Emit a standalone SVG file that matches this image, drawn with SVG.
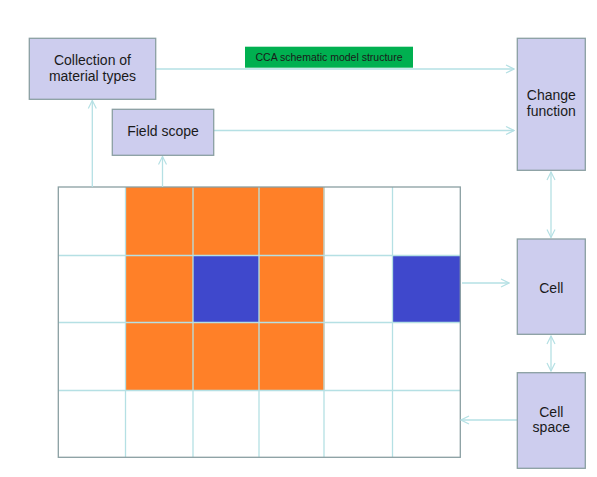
<svg xmlns="http://www.w3.org/2000/svg" width="597" height="477" viewBox="0 0 597 477">
<style>
.box{fill:#CDCDEE;stroke:#8A9FA2;stroke-width:1.3}
.t{font-family:"Liberation Sans",Arial,sans-serif;font-size:14px;fill:#1a1a1a;text-anchor:middle}
.c{fill:none;stroke:#B5E0E4;stroke-width:1.3}
.g{stroke:#B5E0E4;stroke-width:1.3;fill:none}
.o{fill:#FF8028}
.b{fill:#3F48CC}
</style>
<defs>
<marker id="a" viewBox="0 0 10 10" refX="9" refY="5" markerWidth="10" markerHeight="10" markerUnits="userSpaceOnUse" orient="auto-start-reverse">
<path d="M1,1 L9,5 L1,9" fill="none" stroke="#B5E0E4" stroke-width="1.2"/>
</marker>
</defs>
<rect width="597" height="477" fill="#fff"/>
<g id="grid">
<rect x="125.5" y="187" width="199" height="203.5" class="o"/>
<rect x="193" y="255.5" width="66" height="67" class="b"/>
<rect x="392.5" y="255.5" width="68" height="67" class="b"/>
<path class="g" d="M125.5,187V457M193,187V457M259,187V457M324,187V457M392.5,187V457M58,255.5H460M58,322.5H460M58,390.5H460"/>
<rect x="58.3" y="187" width="402" height="270.3" fill="none" stroke="#8A9FA2" stroke-width="1.3"/>
</g>
<g id="connectors">
<line class="c" x1="92.3" y1="187" x2="92.3" y2="100.5" marker-end="url(#a)"/>
<line class="c" x1="162.5" y1="187" x2="162.5" y2="156.5" marker-end="url(#a)"/>
<line class="c" x1="156" y1="69" x2="514" y2="69" marker-end="url(#a)"/>
<line class="c" x1="214" y1="130.5" x2="514" y2="130.5" marker-end="url(#a)"/>
<line class="c" x1="551" y1="172" x2="551" y2="237.5" marker-start="url(#a)" marker-end="url(#a)"/>
<line class="c" x1="462" y1="283" x2="509" y2="283" marker-end="url(#a)"/>
<line class="c" x1="551" y1="336" x2="551" y2="371" marker-start="url(#a)" marker-end="url(#a)"/>
<line class="c" x1="517" y1="420" x2="461" y2="420" marker-end="url(#a)"/>
</g>
<g id="title">
<rect x="245" y="46.7" width="168" height="21" fill="#00B050"/>
<text x="329" y="61" font-family="'Liberation Sans',Arial,sans-serif" font-size="10.5" fill="#1a1a1a" text-anchor="middle">CCA schematic model structure</text>
</g>
<g id="collection">
<rect class="box" x="29.3" y="38.3" width="126.4" height="61"/>
<text class="t" x="92.5" y="65">Collection of</text>
<text class="t" x="92.5" y="81">material types</text>
</g>
<g id="field">
<rect class="box" x="112.3" y="109.3" width="101.4" height="46"/>
<text class="t" x="163" y="136">Field scope</text>
</g>
<g id="change">
<rect class="box" x="517.3" y="38.3" width="68" height="132"/>
<text class="t" x="551.3" y="100">Change</text>
<text class="t" x="551.3" y="115.5">function</text>
</g>
<g id="cell">
<rect class="box" x="517.3" y="239" width="68" height="95.3"/>
<text class="t" x="551.3" y="292.5">Cell</text>
</g>
<g id="cellspace">
<rect class="box" x="517.3" y="372.7" width="68" height="95.6"/>
<text class="t" x="551.3" y="417">Cell</text>
<text class="t" x="551.3" y="432">space</text>
</g>
</svg>
